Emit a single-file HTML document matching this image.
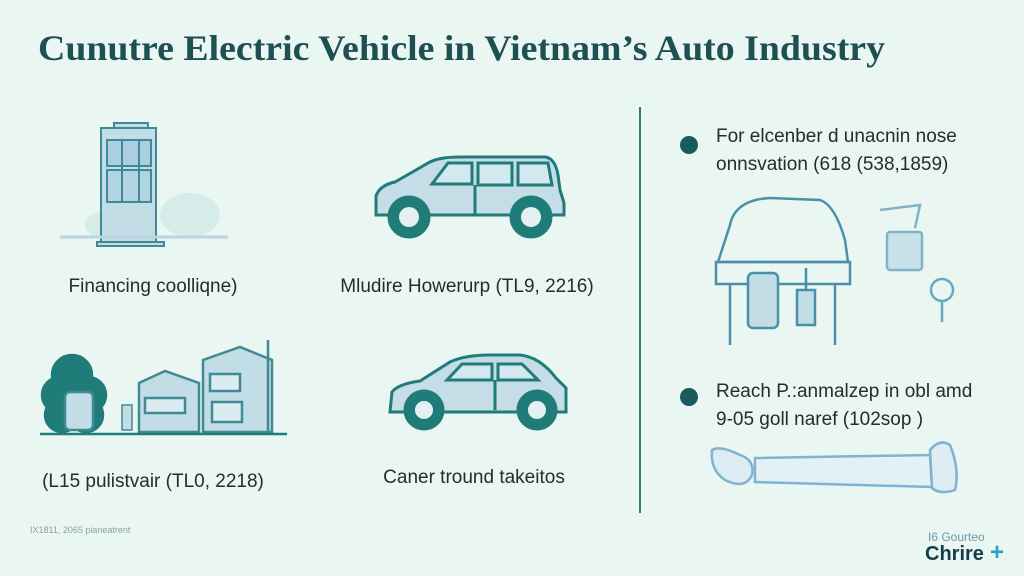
<!DOCTYPE html>
<html><head><style>
body{margin:0;width:1024px;height:576px;overflow:hidden;background:#e9f6f2;}
svg{display:block}
text{font-family:"Liberation Sans",sans-serif;}
</style></head><body>
<svg width="1024" height="576" viewBox="0 0 1024 576">
<rect width="1024" height="576" fill="#e9f6f2"/>
<text x="38" y="60" font-size="36" font-weight="bold" fill="#1e4f52" textLength="847" lengthAdjust="spacingAndGlyphs" style="font-family:'Liberation Serif',serif">Cunutre Electric Vehicle in Vietnam’s Auto Industry</text>

<!-- building -->
<g stroke="#3f8a94" stroke-width="2" fill="#c3dde6">
<ellipse cx="190" cy="215" rx="30" ry="22" fill="#d6ece8" stroke="none"/>
<ellipse cx="110" cy="225" rx="25" ry="15" fill="#d6ece8" stroke="none"/>
<rect x="114" y="123" width="34" height="6"/>
<rect x="101" y="128" width="55" height="114"/>
<rect x="107" y="140" width="44" height="26" fill="#a9cfe0"/>
<rect x="107" y="170" width="44" height="32" fill="#b2d4e2"/>
<line x1="122" y1="140" x2="122" y2="202"/><line x1="139" y1="140" x2="139" y2="202"/>
<rect x="97" y="242" width="67" height="4"/>
</g>
<line x1="60" y1="237" x2="228" y2="237" stroke="#b7d5e3" stroke-width="3"/>
<text x="153" y="292" font-size="19" fill="#2a2a2a" text-anchor="middle">Financing coolliqne)</text>

<!-- van -->
<g stroke="#1f7c78" stroke-width="3" fill="#c5dde6">
<path d="M376 215 L376 196 Q380 185 395 182 L430 162 Q440 157 460 157 L545 157 Q555 158 558 175 L560 190 L564 203 L564 215 Z"/>
<path d="M432 184 L448 163 L472 163 L472 184 Z" fill="#d3e8ef"/>
<path d="M478 163 L512 163 L512 185 L478 185 Z" fill="#d3e8ef"/>
<path d="M518 163 L548 163 L552 185 L518 185 Z" fill="#d3e8ef"/>
<line x1="475" y1="185" x2="475" y2="215"/>
<circle cx="409" cy="217" r="20" fill="#1f7c78"/><circle cx="409" cy="217" r="10" fill="#e3f1f3" stroke="none"/>
<circle cx="531" cy="217" r="20" fill="#1f7c78"/><circle cx="531" cy="217" r="10" fill="#e3f1f3" stroke="none"/>
</g>
<text x="467" y="292" font-size="19" fill="#2a2a2a" text-anchor="middle">Mludire Howerurp (TL9, 2216)</text>

<!-- village -->
<g stroke="#1f7c78" stroke-width="2.5">
<circle cx="72" cy="375" r="20" fill="#1f7c78"/><circle cx="60" cy="395" r="18" fill="#1f7c78"/><circle cx="88" cy="395" r="18" fill="#1f7c78"/>
<circle cx="62" cy="415" r="17" fill="#1f7c78"/><circle cx="86" cy="415" r="17" fill="#1f7c78"/>
<rect x="65" y="392" width="28" height="38" rx="5" fill="#c3dde6" stroke="#3f8a94"/>
<rect x="122" y="405" width="10" height="25" fill="#c3dde6" stroke="#3f8a94" stroke-width="1.5"/>
<path d="M139 383 L165 371 L199 383 L199 432 L139 432 Z" fill="#c3dde6" stroke="#3f8a94"/>
<rect x="145" y="398" width="40" height="15" fill="#dbecf1" stroke="#3f8a94"/>
<path d="M203 360 L240 347 L272 360 L272 432 L203 432 Z" fill="#c3dde6" stroke="#3f8a94"/>
<rect x="210" y="374" width="30" height="17" fill="#dbecf1" stroke="#3f8a94"/>
<rect x="212" y="402" width="30" height="20" fill="#dbecf1" stroke="#3f8a94"/>
<line x1="268" y1="340" x2="268" y2="432" stroke="#3f8a94"/>
<line x1="40" y1="434" x2="287" y2="434" stroke="#1f7c78"/>
</g>
<text x="153" y="487" font-size="19" fill="#2a2a2a" text-anchor="middle">(L15 pulistvair (TL0, 2218)</text>

<!-- hatchback -->
<g stroke="#1f7c78" stroke-width="3" fill="#c5dde6">
<path d="M390 412 L392 392 Q398 384 420 381 L450 362 Q465 355 490 355 L520 355 Q540 357 556 378 L566 388 L566 412 Z"/>
<path d="M447 380 L462 364 L492 364 L492 380 Z" fill="#d3e8ef"/>
<path d="M498 364 L522 364 L538 380 L498 380 Z" fill="#d3e8ef"/>
<line x1="495" y1="380" x2="495" y2="410"/>
<circle cx="424" cy="410" r="19" fill="#1f7c78"/><circle cx="424" cy="410" r="9" fill="#e3f1f3" stroke="none"/>
<circle cx="537" cy="410" r="19" fill="#1f7c78"/><circle cx="537" cy="410" r="9" fill="#e3f1f3" stroke="none"/>
</g>
<text x="474" y="483" font-size="19" fill="#2a2a2a" text-anchor="middle">Caner tround takeitos</text>

<!-- divider -->
<line x1="640" y1="107" x2="640" y2="513" stroke="#2f7a7a" stroke-width="2"/>

<circle cx="689" cy="145" r="9" fill="#1a5c5c"/>
<text x="716" y="142" font-size="19" fill="#2a2a2a">For elcenber d unacnin nose</text>
<text x="716" y="170" font-size="19" fill="#2a2a2a">onnsvation (618 (538,1859)</text>

<g stroke="#4a90a8" stroke-width="2.5" fill="none">
<path d="M718 262 L730 225 Q735 200 770 198 L820 200 Q835 205 845 240 L848 262 Z"/>
<rect x="716" y="262" width="134" height="22"/>
<line x1="730" y1="284" x2="730" y2="345"/><line x1="835" y1="284" x2="835" y2="345"/>
<rect x="748" y="273" width="30" height="55" rx="5" fill="#c3dde6"/>
<rect x="797" y="290" width="18" height="35" fill="#c3dde6"/>
<line x1="806" y1="268" x2="806" y2="290"/>
<rect x="887" y="232" width="35" height="38" rx="3" fill="#c9e2ea" stroke="#7fb3c7"/>
<path d="M880 210 L920 205 L915 228" stroke="#7fb3c7"/>
<circle cx="942" cy="290" r="11" stroke="#6aa8c0"/><line x1="942" y1="300" x2="942" y2="322" stroke="#6aa8c0"/>
</g>

<circle cx="689" cy="397" r="9" fill="#1a5c5c"/>
<text x="716" y="397" font-size="19" fill="#2a2a2a">Reach P.:anmalzep in obl amd</text>
<text x="716" y="425" font-size="19" fill="#2a2a2a">9-05 goll naref (102sop )</text>

<g stroke="#7fb3d0" stroke-width="2.5" fill="#dcecf2">
<path d="M755 458 L930 455 L932 487 L755 482 Z" fill="#e3f0f5"/>
<path d="M712 450 Q720 445 740 455 Q755 460 752 475 Q745 490 725 480 Q710 470 712 450 Z"/>
<path d="M930 450 Q940 438 950 445 Q960 470 955 490 Q940 495 932 488 Z"/>
</g>

<text x="30" y="533" font-size="9" fill="#8aa0a5">IX1811, 2065 pianeatrent</text>
<text x="928" y="541" font-size="12" fill="#6a9aa8">I6 Gourteo</text>
<text x="925" y="560" font-size="20" font-weight="bold" fill="#143c4a">Chrire</text>
<text x="990" y="560" font-size="24" font-weight="bold" fill="#2a9fc9">+</text>
</svg>
</body></html>
